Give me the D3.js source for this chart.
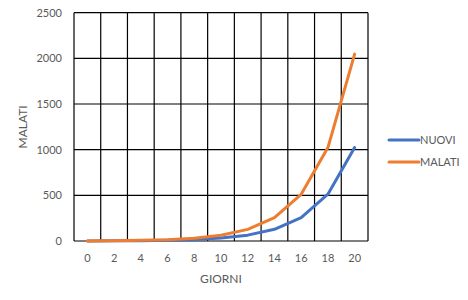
<!DOCTYPE html>
<html>
<head>
<meta charset="utf-8">
<script src="https://cdn.jsdelivr.net/npm/d3@7"></script>
<style>
  html, body { margin: 0; padding: 0; background: #fff; }
  svg { display: block; font-family: Lato, "Open Sans", sans-serif; }
</style>
</head>
<body>
<svg id="chart" width="468" height="300"></svg>
<script>
const giorni = [0, 2, 4, 6, 8, 10, 12, 14, 16, 18, 20];
const nuovi  = [1, 2, 4, 8, 16, 32, 64, 128, 256, 512, 1024];
const malati = [1, 3, 7, 15, 31, 63, 127, 255, 511, 1023, 2047];
const yTicks = [0, 500, 1000, 1500, 2000, 2500];
const seriesNames = ["NUOVI", "MALATI"];
const seriesColors = ["#4472C4", "#ED7D31"];

const svg = d3.select("#chart");
const plotLeft = 74, plotRight = 368, plotTop = 12.7, plotBottom = 241;
const textColor = "#595959";

const x = d3.scaleBand().domain(giorni).range([plotLeft, plotRight]).paddingInner(0).paddingOuter(0);
const y = d3.scaleLinear().domain([0, 2500]).range([plotBottom, plotTop]);

// horizontal gridlines
svg.append("g").selectAll("line").data(yTicks).join("line")
  .attr("x1", plotLeft).attr("x2", plotRight)
  .attr("y1", d => y(d)).attr("y2", d => y(d))
  .attr("stroke", "#000").attr("stroke-width", 1.2);

// vertical gridlines at band boundaries
const bounds = giorni.map(g => x(g)).concat([x(giorni[giorni.length - 1]) + x.bandwidth()]);
svg.append("g").selectAll("line").data(bounds).join("line")
  .attr("x1", d => d).attr("x2", d => d)
  .attr("y1", plotTop).attr("y2", plotBottom)
  .attr("stroke", "#000").attr("stroke-width", 1.2);

// y tick labels
svg.append("g").selectAll("text").data(yTicks).join("text")
  .attr("x", 62).attr("y", d => y(d))
  .attr("dy", "0.35em")
  .attr("text-anchor", "end")
  .attr("font-size", 11)
  .attr("fill", textColor)
  .text(d => d);

// x tick labels
svg.append("g").selectAll("text").data(giorni).join("text")
  .attr("x", d => x(d) + x.bandwidth() / 2).attr("y", 258)
  .attr("dy", "0.35em")
  .attr("text-anchor", "middle")
  .attr("font-size", 11)
  .attr("fill", textColor)
  .text(d => d);

// axis titles
svg.append("text")
  .attr("x", (plotLeft + plotRight) / 2).attr("y", 279)
  .attr("dy", "0.35em")
  .attr("text-anchor", "middle")
  .attr("font-size", 12)
  .attr("fill", textColor)
  .text("GIORNI");

svg.append("text")
  .attr("transform", `translate(23,${(plotTop + plotBottom) / 2}) rotate(-90)`)
  .attr("dy", "0.35em")
  .attr("text-anchor", "middle")
  .attr("font-size", 12)
  .attr("fill", textColor)
  .text("MALATI");

// lines
const line = d3.line()
  .x((d, i) => x(giorni[i]) + x.bandwidth() / 2)
  .y(d => y(d));

const data = [nuovi, malati];
data.forEach((vals, i) => {
  svg.append("path")
    .datum(vals)
    .attr("d", line)
    .attr("fill", "none")
    .attr("stroke", seriesColors[i])
    .attr("stroke-width", 3)
    .attr("stroke-linejoin", "round")
    .attr("stroke-linecap", "round");
});

// legend
const legendY = [140, 162];
seriesNames.forEach((name, i) => {
  svg.append("line")
    .attr("x1", 389).attr("x2", 419)
    .attr("y1", legendY[i]).attr("y2", legendY[i])
    .attr("stroke", seriesColors[i]).attr("stroke-width", 3)
    .attr("stroke-linecap", "round");
  svg.append("text")
    .attr("x", 420).attr("y", legendY[i])
    .attr("dy", "0.35em")
    .attr("font-size", 11)
    .attr("fill", textColor)
    .text(name);
});
</script>
</body>
</html>
